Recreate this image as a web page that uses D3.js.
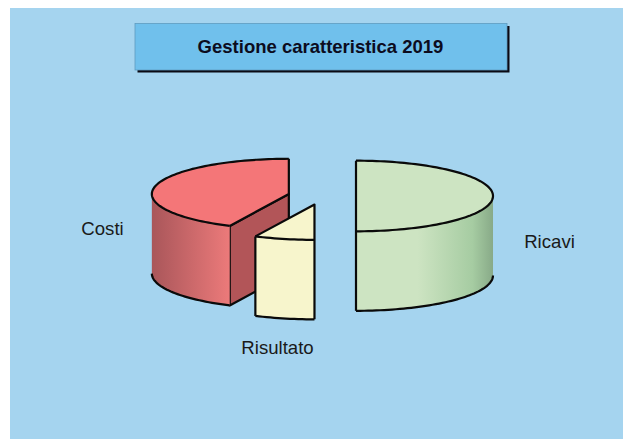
<!DOCTYPE html>
<html>
<head>
<meta charset="utf-8">
<script src="https://cdnjs.cloudflare.com/ajax/libs/d3/7.8.5/d3.min.js"></script>
<style>
  html, body { margin: 0; padding: 0; background: #fff; overflow: hidden; }
  text { font-family: "Liberation Sans", Arial, sans-serif; }
</style>
</head>
<body>
<svg id="chart" width="623" height="439"></svg>
<script>
const titleText = "Gestione caratteristica 2019";
// clockwise from the top of the pie
const categories = ["Ricavi", "Risultato", "Costi"];
const shares = [50, 7.1, 42.9];
const sliceColors = ["#cde4c2", "#f7f5cc", "#f47678"];
const sideDark = ["#88aa88", "#f7f5cc", "#a9565a"];
const sideLight = ["#cde4c2", "#f7f5cc", "#ec7a7a"];
const labelPos = [[549.5, 241], [277.5, 347], [102.5, 228]];

const cx = 322, cy = 196;   // pie centre before exploding
const rx = 137, ry = 35.3, depth = 79.5, explode = 34;

const svg = d3.select("#chart");
const defs = svg.append("defs");

svg.append("rect").attr("x", 10).attr("y", 8).attr("width", 613).attr("height", 431).attr("fill", "#a5d4ef");

// title box
svg.append("rect").attr("x", 137.5).attr("y", 26).attr("width", 372).attr("height", 46.5).attr("fill", "#0a0a14");
svg.append("rect").attr("x", 135).attr("y", 23.5).attr("width", 372).attr("height", 46.5)
    .attr("fill", "#70c0ec").attr("stroke", "#5f9cc0").attr("stroke-width", 0.8);
svg.append("text").attr("x", 320.5).attr("y", 53).attr("text-anchor", "middle")
    .attr("font-size", 18.5).attr("font-weight", "bold").attr("fill", "#0c0c1e").text(titleText);

const pie = d3.pie().sort(null).startAngle(0).endAngle(2 * Math.PI);
const arcs = pie(shares);

// angle measured clockwise from the top, squashed into an ellipse
const px = (a, ox) => ox + rx * Math.sin(a);
const py = (a, oy) => oy - ry * Math.cos(a);

function samples(a0, a1) {
    const n = Math.max(2, Math.ceil(Math.abs(a1 - a0) / 0.03));
    return d3.range(n + 1).map(i => a0 + (a1 - a0) * i / n);
}

const line = d3.line();

// draw back to front: Ricavi, Costi, then Risultato
[0, 2, 1].forEach(function(i) {
    const d = arcs[i];
    const mid = (d.startAngle + d.endAngle) / 2;
    const ox = cx + explode * Math.sin(mid);
    const oy = cy - explode * (ry / rx) * Math.cos(mid);
    const g = svg.append("g");
    const stroke = { stroke: "#0a0a0a", width: 2.2 };

    const a0 = d.startAngle, a1 = d.endAngle;

    // cut face that looks towards us (only Costi shows one)
    if (i === 2) {
        const p = [px(a0, ox), py(a0, oy)];
        g.append("path")
            .attr("d", line([[ox, oy], p, [p[0], p[1] + depth], [ox, oy + depth]]) + "Z")
            .attr("fill", "#b25558").attr("stroke", stroke.stroke).attr("stroke-width", stroke.width)
            .attr("stroke-linejoin", "round");
    }

    // outer wall: the part of the rim on the lower half of the ellipse
    const w0 = Math.max(a0, Math.PI / 2), w1 = Math.min(a1, 3 * Math.PI / 2);
    if (w1 > w0) {
        const top = samples(w0, w1).map(a => [px(a, ox), py(a, oy)]);
        const bottom = top.map(p => [p[0], p[1] + depth]);
        const gradId = "wall" + i;
        const x0 = d3.min(top, p => p[0]), x1 = d3.max(top, p => p[0]);
        const grad = defs.append("linearGradient").attr("id", gradId)
            .attr("gradientUnits", "userSpaceOnUse")
            .attr("x1", x0).attr("x2", x1).attr("y1", 0).attr("y2", 0);
        if (i === 0) {
            grad.append("stop").attr("offset", 0).attr("stop-color", sideLight[i]);
            grad.append("stop").attr("offset", 0.45).attr("stop-color", sideLight[i]);
            grad.append("stop").attr("offset", 0.85).attr("stop-color", "#a6cca2");
            grad.append("stop").attr("offset", 1).attr("stop-color", sideDark[i]);
        } else {
            grad.append("stop").attr("offset", 0).attr("stop-color", sideDark[i]);
            grad.append("stop").attr("offset", 1).attr("stop-color", sideLight[i]);
        }
        g.append("path").attr("d", line(top.concat(bottom.slice().reverse())) + "Z")
            .attr("fill", "url(#" + gradId + ")");
        g.append("path").attr("d", line(bottom)).attr("fill", "none")
            .attr("stroke", stroke.stroke).attr("stroke-width", stroke.width);
    }

    // top face
    const rim = samples(a0, a1).map(a => [px(a, ox), py(a, oy)]);
    g.append("path").attr("d", line([[ox, oy]].concat(rim)) + "Z")
        .attr("fill", sliceColors[i]);
    g.append("path").attr("d", line(rim)).attr("fill", "none")
        .attr("stroke", stroke.stroke).attr("stroke-width", stroke.width);

    if (i === 0) {
        // flat left side, full height
        g.append("path").attr("d", line([[ox, py(0, oy)], [ox, py(Math.PI, oy) + depth]]))
            .attr("stroke", stroke.stroke).attr("stroke-width", stroke.width);
    }
    if (i === 1) {
        // wedge edges and the two vertical corners
        const pa = [px(a1, ox), py(a1, oy)];
        g.append("path").attr("d", line([pa, [ox, oy], [ox, py(a0, oy) + depth]])).attr("fill", "none")
            .attr("stroke", stroke.stroke).attr("stroke-width", stroke.width).attr("stroke-linejoin", "round");
        g.append("path").attr("d", line([pa, [pa[0], pa[1] + depth]]))
            .attr("stroke", stroke.stroke).attr("stroke-width", stroke.width);
    }
    if (i === 2) {
        const pa = [px(a0, ox), py(a0, oy)];
        g.append("path").attr("d", line([pa, [ox, oy], [ox, py(a1, oy)]])).attr("fill", "none")
            .attr("stroke", stroke.stroke).attr("stroke-width", stroke.width).attr("stroke-linejoin", "round");
    }

    svg.append("text").attr("x", labelPos[i][0]).attr("y", labelPos[i][1] + 6.5)
        .attr("text-anchor", "middle").attr("font-size", 18.6).attr("fill", "#1a1a1a")
        .text(categories[i]);
});
</script>
</body>
</html>
